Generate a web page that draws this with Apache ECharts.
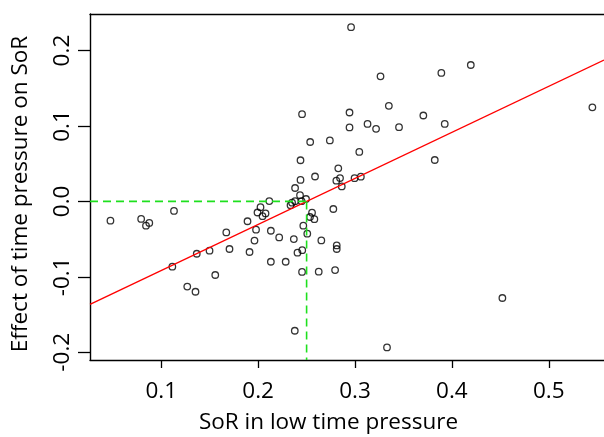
<!DOCTYPE html>
<html><head><meta charset="utf-8">
<script src="https://cdn.jsdelivr.net/npm/echarts@6/dist/echarts.min.js"></script>
<style>html,body{margin:0;padding:0;background:#fff}#c{width:604px;height:437px}</style>
</head><body><div id="c"></div>
<script>
// SoR in low time pressure (x) and effect of time pressure on SoR (y)
const sorLow = [0.0475,0.0792,0.0842,0.0876,0.1131,0.1114,0.1366,0.1498,0.1268,0.1353,
0.1557,0.1671,0.1704,0.1890,0.1911,0.1962,0.1978,0.1993,0.2024,0.2076,
0.2045,0.2115,0.2131,0.2131,0.2217,0.2284,0.2368,0.2378,0.2406,0.2455,
0.2453,0.2466,0.2507,0.2556,0.2535,0.2580,0.2625,0.2652,0.2776,0.2794,
0.2811,0.2811,0.3330,0.4521,0.2334,0.2350,0.2381,0.2448,0.2494,0.2432,
0.2381,0.2437,0.2437,0.2453,0.2537,0.2587,0.2740,0.2827,0.2807,0.2845,
0.2863,0.2943,0.2943,0.2959,0.2995,0.3044,0.3060,0.3129,0.3217,0.3263,
0.3349,0.3454,0.3705,0.3823,0.3891,0.3926,0.4195,0.5450];
const effect = [-0.0256,-0.0232,-0.0322,-0.0286,-0.0126,-0.0866,-0.0694,-0.0654,-0.1129,-0.1198,
-0.0976,-0.0411,-0.0631,-0.0263,-0.0671,-0.0519,-0.0375,-0.0147,-0.0077,-0.0160,
-0.0196,0.0005,-0.0389,-0.0800,-0.0477,-0.0800,-0.0499,-0.1715,-0.0680,-0.0647,
-0.0935,-0.0322,-0.0428,-0.0150,-0.0207,-0.0236,-0.0932,-0.0517,-0.0101,-0.0910,
-0.0584,-0.0631,-0.1936,-0.1281,-0.0050,-0.0017,0.0003,0.0003,0.0032,0.0082,
0.0178,0.0285,0.0546,0.1157,0.0788,0.0330,0.0809,0.0438,0.0275,0.0310,
0.0199,0.1179,0.0981,0.2310,0.0308,0.0656,0.0328,0.1028,0.0962,0.1658,
0.1267,0.0984,0.1139,0.0549,0.1703,0.1027,0.1809,0.1247];
const xTicks = [0.1,0.2,0.3,0.4,0.5];
const yTicks = [-0.2,-0.1,0.0,0.1,0.2];
const fitSlope = 0.6106, fitIntercept = -0.1527;
const threshX = 0.25, threshY = 0.0;
const xMin = 0.0264, xMax = 0.5570, yMin = -0.2103, yMax = 0.2485;

const pts = sorLow.map((x,i)=>[x,effect[i]]);
const fitLine = [[xMin, fitIntercept + fitSlope*xMin],[xMax, fitIntercept + fitSlope*xMax]];
const FONT = '"Open Sans", sans-serif';
const AX = {color:'#000', width:1.4};
const chart = echarts.init(document.getElementById('c'), null, {renderer:'canvas'});
chart.setOption({
  animation:false,
  backgroundColor:'#fff',
  grid:{left:90, top:14, right:0, height:346},
  xAxis:[
    {type:'value', min:xMin, max:xMax, position:'bottom', splitLine:{show:false},
    axisLine:{show:true, onZero:false, lineStyle:AX},
    axisTick:{show:true, customValues:xTicks, length:8, lineStyle:{color:'#000', width:1.3}},
    axisLabel:{customValues:xTicks, formatter:v=>v.toFixed(1), margin:20, color:'#000', fontSize:22.5, fontFamily:FONT}},
    {type:'value', min:xMin, max:xMax, position:'top', splitLine:{show:false},
    axisLine:{show:true, onZero:false, lineStyle:AX}, axisTick:{show:false}, axisLabel:{show:false}}
  ],
  yAxis:{type:'value', min:yMin, max:yMax, position:'left', splitLine:{show:false},
    axisLine:{show:true, onZero:false, lineStyle:AX},
    axisTick:{show:true, customValues:yTicks, length:12, lineStyle:{color:'#000', width:1.3}},
    axisLabel:{customValues:yTicks, formatter:v=>v.toFixed(1), rotate:90, margin:16, color:'#000', fontSize:22.5, fontFamily:FONT}},
  graphic:[
    {type:'text', x:328.5, y:423, style:{text:'SoR in low time pressure', font:'22.5px '+FONT, fill:'#000', align:'center', verticalAlign:'middle'}},
    {type:'text', x:21, y:194, rotation:Math.PI/2, style:{text:'Effect of time pressure on SoR', font:'22.5px '+FONT, fill:'#000', align:'center', verticalAlign:'middle'}}
  ],
  series:[
    {type:'scatter', data:pts, symbol:'circle', symbolSize:6.5,
      itemStyle:{color:'rgba(0,0,0,0)', borderColor:'#000', borderWidth:1.3}},
    {type:'line', data:fitLine, showSymbol:false, symbol:'none', lineStyle:{color:'#ff0000', width:1.4}, silent:true},
    {type:'line', data:[[xMin,threshY],[threshX,threshY]], symbol:'none', lineStyle:{color:'#1ee01e', width:1.6, type:[8,5]}, silent:true},
    {type:'line', data:[[threshX,threshY],[threshX,yMin]], symbol:'none', lineStyle:{color:'#1ee01e', width:1.6, type:[8,5]}, silent:true}
  ]
});
</script></body></html>
